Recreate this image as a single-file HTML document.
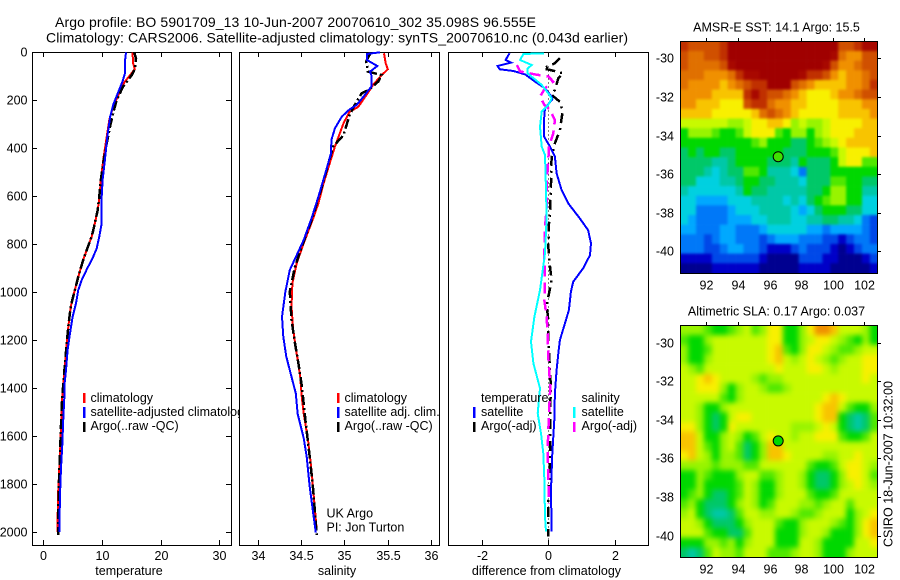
<!DOCTYPE html>
<html>
<head>
<meta charset="utf-8">
<title>Argo profile</title>
<style>
html,body{margin:0;padding:0;background:#fff;}
svg{display:block;}
text{font-family:"Liberation Sans",sans-serif;font-size:12.5px;fill:#000;}
.title{font-size:14px;}
.line{fill:none;stroke-linejoin:miter;shape-rendering:crispEdges;}
.frame{fill:#fff;stroke:#000;stroke-width:1;shape-rendering:crispEdges;}
.mapframe{fill:none;stroke:#000;stroke-width:1;shape-rendering:crispEdges;}
</style>
</head>
<body>
<svg id="fig" xmlns="http://www.w3.org/2000/svg" width="900" height="580" viewBox="0 0 900 580">
  <defs>
    <filter id="blur-sst" filterUnits="userSpaceOnUse" x="650" y="10" width="250" height="300" color-interpolation-filters="sRGB"><feGaussianBlur stdDeviation="1.2"/></filter>
    <filter id="blur-sla" filterUnits="userSpaceOnUse" x="650" y="295" width="250" height="285" color-interpolation-filters="sRGB"><feGaussianBlur stdDeviation="2.6"/></filter>
    <clipPath id="clip-sst"><rect x="680" y="41" width="198" height="233"/></clipPath>
    <clipPath id="clip-sla"><rect x="680" y="325" width="198" height="233"/></clipPath>
  </defs>
  <rect width="900" height="580" fill="#fff"/>
  <text class="title" x="55" y="27" textLength="481">Argo profile: BO 5901709_13 10-Jun-2007 20070610_302 35.098S 96.555E</text>
  <text class="title" x="46" y="42.5" textLength="582">Climatology: CARS2006. Satellite-adjusted climatology: synTS_20070610.nc (0.043d earlier)</text>

  <g id="p1">
    <rect class="frame" x="32.5" y="52.5" width="199" height="493"/>
    <polyline id="t-clim" class="line" stroke="#ff0000" stroke-width="2"/>
    <polyline id="t-argo" class="line" stroke="#000" stroke-width="2.5" stroke-dasharray="10 3 2 3"/>
    <polyline id="t-sat" class="line" stroke="#0000ff" stroke-width="2"/>
    <rect x="83" y="393" width="2.5" height="10" fill="#ff0000"/>
    <rect x="83" y="407" width="2.5" height="11" fill="#0000ff"/>
    <rect x="83" y="422" width="2.5" height="10" fill="#000"/>
    <text x="90.5" y="402">climatology</text>
    <text x="90.5" y="416">satellite-adjusted climatology</text>
    <text x="90.5" y="430">Argo(..raw -QC)</text>
    <text x="129" y="575" text-anchor="middle">temperature</text>
  </g>

  <g id="p2">
    <rect class="frame" x="239.5" y="52.5" width="200" height="493"/>
    <polyline id="s-clim" class="line" stroke="#ff0000" stroke-width="2"/>
    <polyline id="s-argo" class="line" stroke="#000" stroke-width="2.5" stroke-dasharray="10 3 2 3"/>
    <polyline id="s-sat" class="line" stroke="#0000ff" stroke-width="2"/>
    <rect x="337" y="393" width="2.5" height="10" fill="#ff0000"/>
    <rect x="337" y="407" width="2.5" height="11" fill="#0000ff"/>
    <rect x="337" y="422" width="2.5" height="10" fill="#000"/>
    <text x="344.5" y="402">climatology</text>
    <text x="344.5" y="416">satellite adj. clim.</text>
    <text x="344.5" y="430">Argo(..raw -QC)</text>
    <text x="326.5" y="517.5">UK Argo</text>
    <text x="326.5" y="531.5">PI: Jon Turton</text>
    <text x="337" y="575" text-anchor="middle">salinity</text>
  </g>

  <g id="p3">
    <rect class="frame" x="448.5" y="52.5" width="200" height="493"/>
    <line id="zero-line" x1="548.5" x2="548.5" stroke="#000" stroke-width="1" stroke-dasharray="1 3" shape-rendering="crispEdges"/>
    <polyline id="d-targo" class="line" stroke="#000" stroke-width="2.5" stroke-dasharray="10 5 2 5"/>
    <polyline id="d-tsat" class="line" stroke="#0000ff" stroke-width="2"/>
    <polyline id="d-sargo" class="line" stroke="#ff00ff" stroke-width="2.5" stroke-dasharray="11 6"/>
    <polyline id="d-ssat" class="line" stroke="#00ffff" stroke-width="2"/>
    <text x="481" y="402">temperature</text>
    <text x="581.5" y="402">salinity</text>
    <rect x="473" y="407" width="2.5" height="11" fill="#0000ff"/>
    <rect x="473" y="422" width="2.5" height="10" fill="#000"/>
    <rect x="573" y="407" width="2.5" height="11" fill="#00ffff"/>
    <rect x="573" y="422" width="2.5" height="10" fill="#ff00ff"/>
    <text x="481" y="416">satellite</text>
    <text x="481" y="430">Argo(-adj)</text>
    <text x="581.5" y="416">satellite</text>
    <text x="581.5" y="430">Argo(-adj)</text>
    <text x="546.5" y="575" text-anchor="middle">difference from climatology</text>
  </g>

  <text x="776.5" y="31.5" text-anchor="middle">AMSR-E SST: 14.1 Argo: 15.5</text>
  <g clip-path="url(#clip-sst)"><g id="m1" filter="url(#blur-sst)"></g></g>
  <rect class="mapframe" x="680.5" y="41.5" width="197" height="232"/>
  <circle id="m1-dot" r="5" fill="#40e000" stroke="#000" stroke-width="1"/>

  <text x="776.5" y="315.5" text-anchor="middle">Altimetric SLA: 0.17 Argo: 0.037</text>
  <g clip-path="url(#clip-sla)"><g id="m2" filter="url(#blur-sla)"></g></g>
  <rect class="mapframe" x="680.5" y="325.5" width="197" height="232"/>
  <circle id="m2-dot" r="5" fill="#00d800" stroke="#000" stroke-width="1"/>

  <text transform="translate(892.5,547) rotate(-90)" textLength="166">CSIRO 18-Jun-2007 10:32:00</text>
</svg>
<script>
// Temperature panel
const tempClimDepth = [0,45,70,95,122,178,226,282,352,435,532,601,657,712,768,817,865,935,1004,1060,1129,1212,1296,1379,1456,1553,1678,1817,1998];
const tempClimValues = [15.2,15.3,15.6,14.8,13.9,12.8,11.9,11.25,10.8,10.3,9.8,9.6,9.27,8.8,8.25,7.5,6.8,5.97,5.23,4.67,4.33,3.98,3.7,3.41,3.19,3.02,2.85,2.55,2.39];
const tempArgoDepth = [0,25,70,95,143,199,254,310,379,449,532,601,657,712,768,817,865,935,1004,1060,1129,1212,1296,1379,1456,1553,1678,1817,1942,2012];
const tempArgoValues = [15.5,15.8,15.6,15.07,13.6,12.5,11.9,11.37,10.8,10.3,9.8,9.55,9.27,8.8,8.25,7.5,6.8,5.97,5.23,4.67,4.33,3.98,3.7,3.41,3.19,3.02,2.85,2.62,2.56,2.56];
const tempSatDepth = [0,40,88,122,164,220,268,352,449,532,601,712,768,817,858,900,949,990,1046,1102,1171,1240,1324,1393,1441,1524,1636,1733,1845,1998];
const tempSatValues = [14.1,13.9,13.9,13.5,12.8,11.9,11.4,10.9,10.5,10.1,9.95,9.95,9.55,9.1,8.4,7.5,6.55,5.97,5.57,5.0,4.55,4.15,3.87,3.58,3.58,3.41,3.24,3.02,2.85,2.73];

// Salinity panel
const salClimDepth = [4,46,71,95,136,164,227,248,296,393,463,546,629,692,796,879,962,1060,1157,1255,1352,1442,1505,1615,1740,1865,1990];
const salClimValues = [35.457,35.476,35.5,35.43,35.33,35.28,35.16,35.06,34.99,34.89,34.83,34.76,34.7,34.64,34.53,34.45,34.4,34.39,34.41,34.45,34.49,34.51,34.53,34.58,34.62,34.65,34.68];
const salArgoDepth = [7,39,71,80,95,122,157,171,206,261,345,393,470,560,629,692,768,893,997,1115,1212,1296,1393,1532,1685,1823,2011];
const salArgoValues = [35.295,35.25,35.27,35.27,35.43,35.39,35.28,35.2,35.14,35.06,34.99,34.87,34.81,34.74,34.68,34.63,34.55,34.43,34.37,34.39,34.43,34.47,34.51,34.55,34.6,34.64,34.68];
const salSatDepth = [0,7,32,57,81,95,143,185,220,238,268,317,365,421,504,602,692,782,845,907,997,1102,1185,1268,1352,1421,1505,1608,1685,1810,1921,2001];
const salSatValues = [35.41,35.26,35.26,35.38,35.295,35.31,35.31,35.22,35.14,35.06,34.97,34.89,34.85,34.845,34.78,34.7,34.62,34.53,34.45,34.37,34.32,34.28,34.295,34.33,34.39,34.44,34.46,34.53,34.565,34.6,34.64,34.67];

// Difference panel
const diffTempSatDepth = [4,32,43,57,71,78,92,122,150,185,196,233,282,351,393,435,504,574,629,692,741,796,845,900,956,998,1074,1130,1199,1255,1324,1421,1532,1671,1824,1997];
const diffTempSatValues = [-1.17,-1.285,-1.12,-1.53,-1.46,-1.05,-0.7,-0.4,-0.1,0.1,0.12,-0.1,-0.13,-0.13,0.05,0.2,0.25,0.4,0.6,0.95,1.2,1.285,1.255,1.05,0.75,0.68,0.62,0.5,0.35,0.3,0.25,0.2,0.18,0.12,0.08,0.1];
const diffSalSatDepth = [4,7,32,53,67,88,136,171,192,219,247,310,393,428,574,692,838,991,1102,1206,1296,1400,1504,1588,1671,1775,1935,1997];
const diffSalSatValues = [-0.13,-0.75,-0.85,-0.5,-0.62,-0.62,-0.2,0,0.1,0,-0.2,-0.25,-0.2,-0.1,-0.07,-0.05,-0.1,-0.25,-0.42,-0.52,-0.45,-0.25,-0.32,-0.22,-0.15,-0.12,-0.1,-0.07];
const diffTempArgoDepth = [25,46,67,80,88,108,157,178,206,247,324,379,435,546,671,713,810,893,949,1005,1053,1116,1199,1324,1408,1476,1685,1865,2018];
const diffTempArgoValues = [0.35,0.2,-0.15,0.25,0.45,0.3,0.2,0.1,0.35,0.43,0.35,0.2,0.1,0.08,0.05,0.02,0,0.05,0.1,0.02,-0.05,0,0,0.05,0.08,0.05,0.05,0,0];
const diffSalArgoDepth = [53,80,92,101,122,150,185,219,240,282,337,393,449,546,657,727,838,949,1032,1102,1171,1268,1380,1421,1504,1657,1768,1879];
const diffSalArgoValues = [-0.95,-0.85,-0.4,0,0.15,-0.1,-0.25,-0.12,0.05,0.2,0.15,0.02,0,-0.05,-0.05,-0.1,-0.12,-0.1,-0.12,-0.05,-0.02,0,0.05,0.05,0.02,-0.02,0,0.02];

// Tick labels
const depthTicks = [0,200,400,600,800,1000,1200,1400,1600,1800,2000];
const tempTicks = [0,10,20,30];
const salTicks = [34,34.5,35,35.5,36];
const diffTicks = [-2,0,2];
const lonTicks = [92,94,96,98,100,102];
const latTicks = [-30,-32,-34,-36,-38,-40];

// Profile position
const profileLon = 96.55;
const profileLat = -35.1;

// Map values: one code per 0.5 degree cell, north to south, west to east
const sstRows = [
"hgggghjjjjjjjjjjjjjjgghii",
"gffgghjjjjjjjjjjjjjifeegg",
"gffffgijjjjjjjjjjjigeefgg",
"fffeeefhiijjjjjihhgedeefg",
"feeeedefghhjjjgfeddddeefh",
"eeeeddddhihggfedcccdeefgg",
"eedddcccghhfeeddccccdddee",
"ddddcccccdfgfedcccccdddde",
"bbbbbbaabccddcabaabccccdd",
"8aaa9889bccc98aa8abcccddd",
"8888888889a8887789abcdddd",
"78788778888887778889bcccd",
"77776678888777687778bcc99",
"7776567799866653777888888",
"7755566788776665777998877",
"6555555687766666778aa8866",
"5544445556666565789aa8855",
"5533334555666654578887755",
"5433334445566655667766532",
"4433344333455555443444432",
"3332344333234443332212332",
"3332234433211123222101233",
"1111222222100002221100012",
"0000111111000001111000001"];
const slaRows = [
"aaa9889ab9acc88aceedbbba8",
"988abbbbbbbcc88abccba98a8",
"a889bbbbbbbcd98accba99abb",
"a88abbbbbbbcdbabcba9abbcc",
"ba9bbbbbbbbbcbbbccbabbbcc",
"bbcdcbbbba9aabbbbbbbbbbcb",
"bbccca8abba99abbbbbbbbbbb",
"bbbbb98abbbbbbbbbbcdcbbbb",
"bba88abbbbbbbbbbbcddb988a",
"bba878bccbbbbbbbbcdd87679",
"cca878cbbbbbbbaaabcb87679",
"ddb88aba89bcbbabbccc9889b",
"ddb98ab978addbbbbbbbbbbbb",
"cdba8aa978addcbbbbaabbcbb",
"aaaa9aaa99bbbbbb9889bccba",
"88a9888abb99abba8778accb9",
"88a88889ba88abba8778abcba",
"89a87789ba88abbb9889bbbbb",
"9a87778aba89bbbaa9abb9bbb",
"ab876679bbaabba99abbb8abc",
"bba87778abbb988abbba98acd",
"bbb988779bbb888abba888acd",
"888aa9a8abbb888bba8888bbc",
"7679baa9bbb999abba888abbb"];
const colorCodes = {"0":"#000090","1":"#0000c8","2":"#0048e8","3":"#0078f8","4":"#00a8ff","5":"#00d0e0","6":"#00c8a8","7":"#00c868","8":"#00d800","9":"#50e800","a":"#98f400","b":"#c8fa00","c":"#f8f000","d":"#f8c400","e":"#f09000","f":"#e07000","g":"#d05000","h":"#c03000","i":"#a80800","j":"#a00000"};

// Axis functions
function depthY(d){return 52.3+0.24*d;}
function tempX(v){return 43.3+5.867*v;}
function salX(v){return 257.7+86.7*(v-34);}
function diffX(v){return 548.3+33.2*v;}
function lonX(v){return 706.3+15.8*(v-92);}
function latY1(v){return 58.3+19.3*(-30-v);}
function latY2(v){return 342.5+19.3*(-30-v);}

const SVGNS='http://www.w3.org/2000/svg';
function make(tag,parent){const e=document.createElementNS(SVGNS,tag);parent.appendChild(e);return e;}
function setLine(id,xf,depths,values){
  document.getElementById(id).setAttribute('points',values.map(function(v,i){return xf(v).toFixed(1)+','+depthY(depths[i]).toFixed(1);}).join(' '));
}
setLine('t-clim',tempX,tempClimDepth,tempClimValues);
setLine('t-argo',tempX,tempArgoDepth,tempArgoValues);
setLine('t-sat',tempX,tempSatDepth,tempSatValues);
setLine('s-clim',salX,salClimDepth,salClimValues);
setLine('s-argo',salX,salArgoDepth,salArgoValues);
setLine('s-sat',salX,salSatDepth,salSatValues);
setLine('d-tsat',diffX,diffTempSatDepth,diffTempSatValues);
setLine('d-ssat',diffX,diffSalSatDepth,diffSalSatValues);
setLine('d-targo',diffX,diffTempArgoDepth,diffTempArgoValues);
setLine('d-sargo',diffX,diffSalArgoDepth,diffSalArgoValues);
const zero=document.getElementById('zero-line');
zero.setAttribute('y1',depthY(60));
zero.setAttribute('y2',depthY(2030));

function tick(parent,x1,y1,x2,y2){
  const t=make('line',parent);
  
  
  t.setAttribute('x1',x1);t.setAttribute('y1',y1);t.setAttribute('x2',x2);t.setAttribute('y2',y2);
  t.setAttribute('stroke','#000');t.setAttribute('shape-rendering','crispEdges');
}
function label(parent,x,y,str,anchor){
  const t=make('text',parent);
  
  
  t.setAttribute('x',x);t.setAttribute('y',y);t.setAttribute('text-anchor',anchor);
  t.textContent=String(str);
}
const p1=document.getElementById('p1'),p2=document.getElementById('p2'),p3=document.getElementById('p3');
depthTicks.forEach(function(d){
  const y=Math.round(depthY(d))+0.5;
  tick(p1,32,y,37,y);
  tick(p1,226,y,231,y);
  label(p1,27.5,y+4,d,'end');
});
function xAxis(parent,ticks,xf){
  ticks.forEach(function(v){
    const x=Math.round(xf(v))+0.5;
    tick(parent,x,52,x,57);
    tick(parent,x,540,x,545);
    label(parent,x,560,v,'middle');
  });
}
xAxis(p1,tempTicks,tempX);
xAxis(p2,salTicks,salX);
xAxis(p3,diffTicks,diffX);

function drawMap(id,rows,latY,top,bottom,labelBase,dotId){
  const g=document.getElementById(id);
  const fig=document.getElementById('fig');
  const lon0=90.35,lat0=-29.12;
  rows.forEach(function(row,r){
    row.split('').forEach(function(code,c){
      const rect=make('rect',g);
      
      
      let x0=lonX(lon0+0.5*c),x1=lonX(lon0+0.5*(c+1));
      let y0=latY(lat0-0.5*r),y1=latY(lat0-0.5*(r+1));
      // edge cells run past the frame so the smoothing does not fade at the border
      if(c===0)x0-=14;
      if(c===row.length-1)x1+=14;
      if(r===0)y0-=14;
      if(r===rows.length-1)y1+=14;
      rect.setAttribute('x',x0.toFixed(2));
      rect.setAttribute('y',y0.toFixed(2));
      rect.setAttribute('width',(x1-x0+0.3).toFixed(2));
      rect.setAttribute('height',(y1-y0+0.3).toFixed(2));
      rect.setAttribute('fill',colorCodes[code]);
    });
  });
  lonTicks.forEach(function(v){
    const x=Math.round(lonX(v))+0.5;
    tick(fig,x,top-3,x,top);
    label(fig,x,labelBase,v,'middle');
  });
  latTicks.forEach(function(v){
    const y=Math.round(latY(v))+0.5;
    tick(fig,877,y,881,y);
    label(fig,674,y+4,v,'end');
  });
  const dot=document.getElementById(dotId);
  dot.setAttribute('cx',lonX(profileLon));
  dot.setAttribute('cy',latY(profileLat));
}
drawMap('m1',sstRows,latY1,41,273,289.5,'m1-dot');
drawMap('m2',slaRows,latY2,325,557,573.5,'m2-dot');
</script>
</body>
</html>
